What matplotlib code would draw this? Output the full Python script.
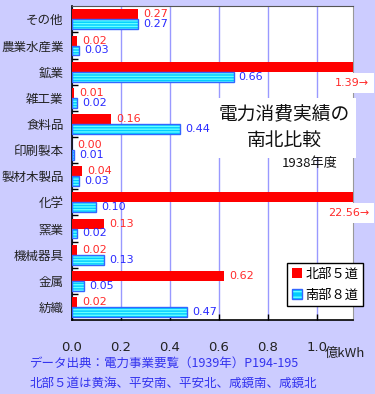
import matplotlib
matplotlib.use('Agg')
import matplotlib.pyplot as plt
import matplotlib.transforms as mtransforms
from matplotlib.patches import Patch
import numpy as np

# ---- data ----
categories = ['その他', '農業水産業', '鉱業', '雑工業', '食料品', '印刷製本',
              '製材木製品', '化学', '窯業', '機械器具', '金属', '紡織']
north = [0.27, 0.02, 1.39, 0.01, 0.16, 0.00, 0.04, 22.56, 0.13, 0.02, 0.62, 0.02]
south = [0.27, 0.03, 0.66, 0.02, 0.44, 0.01, 0.03, 0.10, 0.02, 0.13, 0.05, 0.47]
xticks = [0.0, 0.2, 0.4, 0.6, 0.8, 1.0]
series_labels = ['北部５道', '南部８道']
title_text = '電力消費実績の\n南北比較'
year_text = '1938年度'
unit_text = '億kWh'
note1 = 'データ出典：電力事業要覧（1939年）P194-195'
note2 = '北部５道は黄海、平安南、平安北、咸鏡南、咸鏡北'

# ---- style ----
JP = ['Noto Sans CJK JP', 'DejaVu Sans']
NUM = ['DejaVu Sans']
plt.rcParams['font.family'] = JP
plt.rcParams['hatch.linewidth'] = 1.0

W, H, DPI = 375, 394, 100
BG = '#ccccff'
RED = '#ff0000'
CYAN = '#00ccff'
CYAN_LIGHT = '#66ffff'
BLUE_EDGE = '#3366ff'
RED_TXT = '#ff2a2a'
BLUE_TXT = '#2a2aff'
NOTE_C = '#3333ee'
XMAX = 1.147

fig = plt.figure(figsize=(W / DPI, H / DPI), dpi=DPI, facecolor=BG)
ax = fig.add_axes([72 / W, 1 - 320 / H, (353 - 72) / W, (320 - 6.3) / H])
ax.set_facecolor('white')

n = len(categories)
y = np.arange(n)
bh = 0.38
off = 0.19

ax.barh(y - off, north, height=bh, color=RED, linewidth=0, zorder=3)
ax.barh(y + off, south, height=bh, color=CYAN, edgecolor=CYAN_LIGHT,
        hatch='------', linewidth=0, zorder=3)
ax.barh(y + off, south, height=bh, fill=False, edgecolor=BLUE_EDGE,
        linewidth=1.0, zorder=4)

ax.set_xlim(0, XMAX)
ax.set_ylim(n - 0.5, -0.5)

# value labels
blend = mtransforms.blended_transform_factory(fig.transFigure, ax.transData)
for i in range(n):
    v = north[i]
    if v <= XMAX:
        ax.annotate(f'{v:.2f}', xy=(v, i - off), xytext=(3.6, 0),
                    textcoords='offset points', va='center', ha='left',
                    color=RED_TXT, fontsize=8, family=NUM, zorder=6)
    else:
        ax.text(369 / W, i + 0.42, f'{v:.2f}→', transform=blend,
                ha='right', va='center', color=RED_TXT, fontsize=8,
                family=NUM, clip_on=False, zorder=7,
                bbox=dict(boxstyle='square,pad=0.45', fc='white', ec='none'))
    s = south[i]
    ax.annotate(f'{s:.2f}', xy=(s, i + off), xytext=(3.6, 0),
                textcoords='offset points', va='center', ha='left',
                color=BLUE_TXT, fontsize=8, family=NUM, zorder=6)

# axes styling
ax.set_yticks(y)
ax.set_yticklabels(categories, fontsize=9, color='#222222')
ax.set_yticks(np.arange(0.5, n - 1, 1), minor=True)
ax.tick_params(axis='y', which='major', length=0, pad=6)
ax.tick_params(axis='y', which='minor', direction='in', length=4,
               width=1, color='black')
ax.set_xticks(xticks)
ax.set_xticklabels([f'{t:.1f}' for t in xticks], fontsize=9.5,
                   family=NUM, color='#222222')
ax.tick_params(axis='x', direction='in', length=4, width=1, pad=15)
ax.grid(axis='x', color='#9999ff', linewidth=1, zorder=0)
ax.set_axisbelow(True)
for side in ['left', 'bottom']:
    ax.spines[side].set_color('black')
    ax.spines[side].set_linewidth(1.2)
ax.spines['top'].set_color('#555555')
ax.spines['right'].set_color('#999999')

# title block
fig.text(284 / W, 1 - 128 / H, title_text, ha='center', va='center',
         fontsize=13.5, linespacing=1.3, color='#111111', zorder=5,
         bbox=dict(boxstyle='square,pad=0.35', fc='white', ec='none'))
fig.text(338 / W, 1 - 164 / H, year_text, ha='right', va='center',
         fontsize=9.5, color='#111111', zorder=6)

# unit
fig.text(325 / W, 1 - 353 / H, unit_text, ha='left', va='center',
         fontsize=9.5, color='#222222')

# notes
fig.text(30 / W, 1 - 363 / H, note1, ha='left', va='center',
         fontsize=9, color=NOTE_C)
fig.text(30 / W, 1 - 383 / H, note2, ha='left', va='center',
         fontsize=9, color=NOTE_C)

# legend
h_red = Patch(facecolor=RED, edgecolor='none')
h_blue = (Patch(facecolor=CYAN, edgecolor=CYAN_LIGHT, hatch='---', linewidth=0),
          Patch(fill=False, edgecolor=BLUE_EDGE, linewidth=1.0))
leg = fig.legend([h_red, h_blue], series_labels, loc='upper left',
                 bbox_to_anchor=(287 / W, 1 - 263 / H), borderaxespad=0,
                 fontsize=9.5, handlelength=0.75, handleheight=0.75,
                 handletextpad=0.3, labelspacing=0.6, borderpad=0.35,
                 fancybox=False, framealpha=1, edgecolor='black')
leg.get_frame().set_linewidth(1.0)

fig.savefig('out.png', dpi=DPI, facecolor=BG)
